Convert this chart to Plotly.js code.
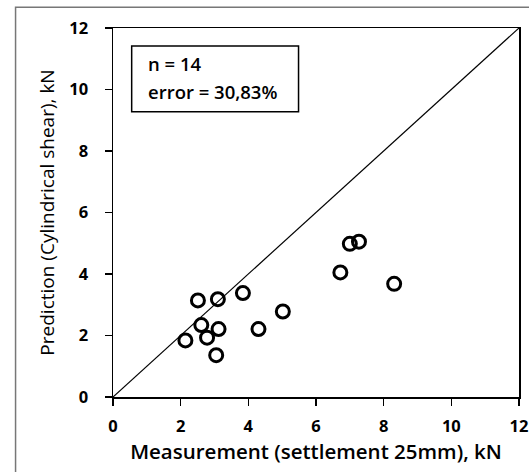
<!DOCTYPE html>
<html>
<head>
<meta charset="utf-8">
<script src="https://cdn.plot.ly/plotly-3.0.1.min.js"></script>
<style>
  html, body { margin: 0; padding: 0; background: #fff; }
  #chart { width: 529px; height: 472px; }
</style>
</head>
<body>
<div id="chart"></div>
<script>
// Data
const measurement = [2.14, 2.51, 3.10, 3.84, 2.61, 3.12, 2.78, 3.05, 4.30, 5.02, 7.00, 7.27, 6.72, 8.31];
const prediction  = [1.84, 3.14, 3.18, 3.38, 2.34, 2.21, 1.93, 1.36, 2.21, 2.78, 4.98, 5.05, 4.05, 3.68];
const lineX = [0, 12];
const lineY = [0, 12];
const tickVals = [0, 2, 4, 6, 8, 10, 12];
const xTitle = "Measurement (settlement 25mm), kN";
const yTitle = "Prediction (Cylindrical shear), kN";
const boxLines = ["n = 14", "error = 30,83%"];

const FONT = "'Open Sans', sans-serif";

const traces = [
  {
    x: lineX, y: lineY, mode: "lines", type: "scatter",
    line: { color: "#000", width: 1.2 }, hoverinfo: "skip"
  },
  {
    x: measurement, y: prediction, mode: "markers", type: "scatter",
    marker: { symbol: "circle-open", size: 13, color: "#000", line: { color: "#000", width: 3 } }
  }
];

const axisCommon = {
  range: [0, 12], tickvals: tickVals, ticks: "outside", ticklen: 7, tickwidth: 1.5, tickcolor: "#000",
  showline: true, linecolor: "#000", linewidth: 1.5, mirror: true, showgrid: false, zeroline: false,
  tickfont: { family: FONT, size: 16.5, color: "#000", weight: "bold" }
};

const layout = {
  width: 529, height: 472,
  margin: { l: 113, r: 10, t: 28, b: 75 },
  paper_bgcolor: "#fff", plot_bgcolor: "#fff",
  showlegend: false,
  xaxis: Object.assign({}, axisCommon, {
    ticklabelstandoff: 7,
    title: { text: xTitle, font: { family: FONT, size: 20.5, color: "#000", weight: 600 }, standoff: 8 }
  }),
  yaxis: Object.assign({}, axisCommon, {
    ticklabelstandoff: 13,
    title: { text: yTitle, font: { family: FONT, size: 19, color: "#000" }, standoff: 9 }
  }),
  shapes: [
    { type: "rect", xref: "paper", yref: "paper", x0: 0.046, x1: 0.457, y0: 0.773, y1: 0.951,
      line: { color: "#000", width: 1.5 }, fillcolor: "#fff", layer: "above" },
    { type: "rect", xref: "paper", yref: "paper", x0: -0.240, x1: 1.03, y0: -0.25, y1: 1.056,
      line: { color: "#777", width: 1.5 }, fillcolor: "rgba(0,0,0,0)" }
  ],
  annotations: [
    { xref: "paper", yref: "paper", x: 0.082, y: 0.905, xanchor: "left", yanchor: "middle",
      text: boxLines[0], showarrow: false, font: { family: FONT, size: 18.5, color: "#000", weight: 600 } },
    { xref: "paper", yref: "paper", x: 0.082, y: 0.828, xanchor: "left", yanchor: "middle",
      text: boxLines[1], showarrow: false, font: { family: FONT, size: 18.5, color: "#000", weight: 600 } }
  ]
};

Plotly.newPlot("chart", traces, layout, { displayModeBar: false, staticPlot: true });
</script>
</body>
</html>
